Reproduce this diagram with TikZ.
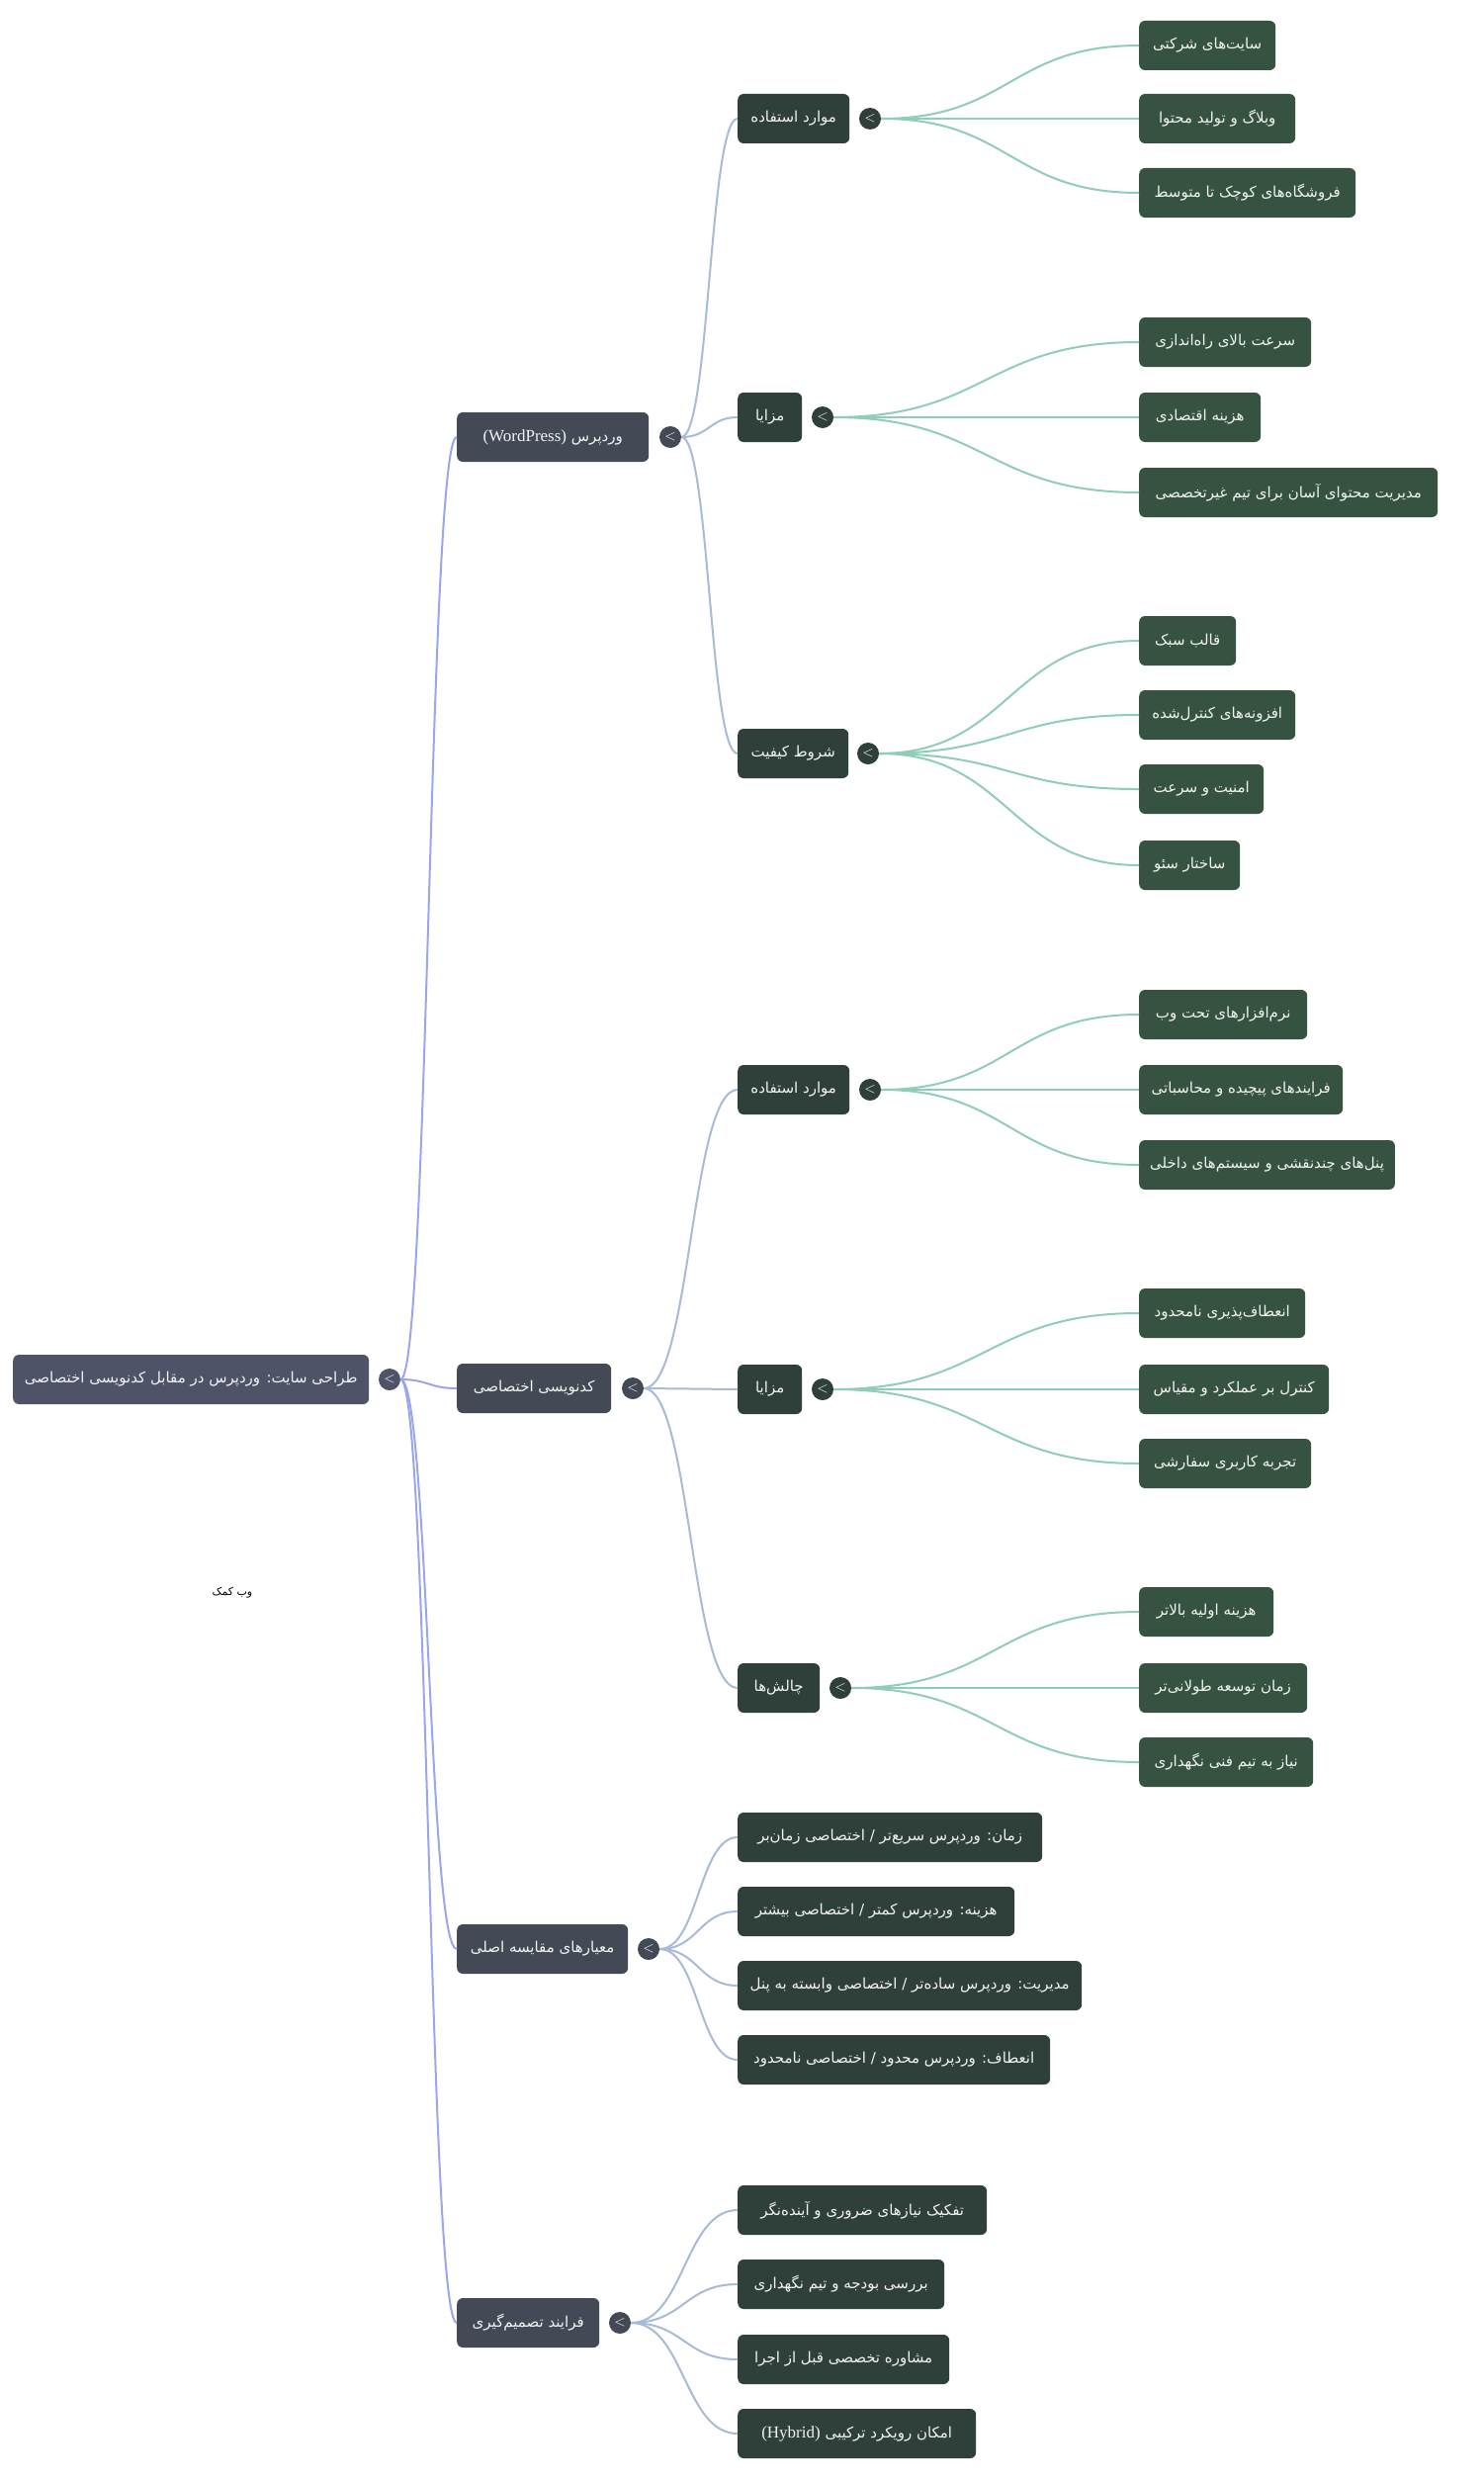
\documentclass[tikz,border=0pt]{standalone}
\usepackage{fontspec}
\newfontfamily\fa[Script=Arabic]{DejaVu Sans}
\newfontfamily\lat{Liberation Serif}
\TeXXeTstate=1
\usetikzlibrary{calc}
\definecolor{rootc}{HTML}{4F5368}
\definecolor{onec}{HTML}{434A56}
\definecolor{twoc}{HTML}{2F403B}
\definecolor{threec}{HTML}{365341}
\definecolor{linkroot}{HTML}{9AA6EC}
\definecolor{linkone}{HTML}{A7BAD8}
\definecolor{linktwo}{HTML}{8FCDB9}
\definecolor{txt}{HTML}{F2F2F2}
\newcommand\zw{^^^^200c}
\newcommand\latin[1]{\beginL{\lat\fontsize{17}{18}\selectfont #1}\endL}
\newcommand\lnk[3]{\path[draw=#3,line width=2pt] let \p1=(#1.east),\p2=(#2.west),\n1={(\x1+\x2)/2} in (\p1) .. controls (\n1,\y1) and (\n1,\y2) .. (\p2);}
\tikzset{
  boxbase/.style={rounded corners=6pt, text=txt, minimum height=50pt, inner xsep=11pt, anchor=west, font=\fa\fontsize{15}{18}\selectfont},
  rootbox/.style={boxbase, fill=rootc},
  onebox/.style={boxbase, fill=onec},
  twobox/.style={boxbase, fill=twoc},
  threebox/.style={boxbase, fill=threec},
  tg/.style={circle, minimum size=22pt, inner sep=0pt, text=white, font=\sffamily\fontsize{15}{15}\selectfont},
}
\begin{document}
\begin{tikzpicture}[x=1pt,y=-1pt]
\useasboundingbox[fill=white] (0,0) rectangle (1500,2510);
% root
\node[rootbox, minimum width=360pt] (root) at (13,1395) {\beginR طراحی سایت: وردپرس در مقابل کدنویسی اختصاصی\endR};
\node[tg, fill=rootc] (rootT) at (394,1395) {<};
% level 1
\node[onebox, minimum width=194pt] (wp) at (462,442) {\beginR وردپرس \latin{(WordPress)}\endR};
\node[onebox, minimum width=156pt] (cu) at (462,1404) {\beginR کدنویسی اختصاصی\endR};
\node[onebox, minimum width=173pt] (cmp) at (462,1971) {\beginR معیارهای مقایسه اصلی\endR};
\node[onebox, minimum width=144pt] (prc) at (462,2349) {\beginR فرایند تصمیم\zw گیری\endR};
\node[tg, fill=onec] (wpT) at (678,442) {<};
\node[tg, fill=onec] (cuT) at (640,1404) {<};
\node[tg, fill=onec] (cmpT) at (656,1971) {<};
\node[tg, fill=onec] (prcT) at (627,2349) {<};
% level 2
\node[twobox, minimum width=113pt] (wpU) at (746,120) {\beginR موارد استفاده\endR};
\node[twobox, minimum width=65pt] (wpA) at (746,422) {\beginR مزایا\endR};
\node[twobox, minimum width=112pt] (wpQ) at (746,762) {\beginR شروط کیفیت\endR};
\node[twobox, minimum width=113pt] (cuU) at (746,1102) {\beginR موارد استفاده\endR};
\node[twobox, minimum width=65pt] (cuA) at (746,1405) {\beginR مزایا\endR};
\node[twobox, minimum width=83pt] (cuC) at (746,1707) {\beginR چالش\zw ها\endR};
\node[tg, fill=twoc] (wpUT) at (880,120) {<};
\node[tg, fill=twoc] (wpAT) at (832,422) {<};
\node[tg, fill=twoc] (wpQT) at (878,762) {<};
\node[tg, fill=twoc] (cuUT) at (880,1102) {<};
\node[tg, fill=twoc] (cuAT) at (832,1405) {<};
\node[tg, fill=twoc] (cuCT) at (850,1707) {<};
\node[twobox, minimum width=308pt] (cmp1) at (746,1858) {\beginR زمان: وردپرس سریع\zw تر / اختصاصی زمان\zw بر\endR};
\node[twobox, minimum width=280pt] (cmp2) at (746,1933) {\beginR هزینه: وردپرس کمتر / اختصاصی بیشتر\endR};
\node[twobox, minimum width=348pt] (cmp3) at (746,2008) {\beginR مدیریت: وردپرس ساده\zw تر / اختصاصی وابسته به پنل\endR};
\node[twobox, minimum width=316pt] (cmp4) at (746,2083) {\beginR انعطاف: وردپرس محدود / اختصاصی نامحدود\endR};
\node[twobox, minimum width=252pt] (prc1) at (746,2235) {\beginR تفکیک نیازهای ضروری و آینده\zw نگر\endR};
\node[twobox, minimum width=209pt] (prc2) at (746,2310) {\beginR بررسی بودجه و تیم نگهداری\endR};
\node[twobox, minimum width=214pt] (prc3) at (746,2386) {\beginR مشاوره تخصصی قبل از اجرا\endR};
\node[twobox, minimum width=241pt] (prc4) at (746,2461) {\beginR امکان رویکرد ترکیبی \latin{(Hybrid)}\endR};
% level 3
\node[threebox, minimum width=138pt] (a1) at (1152,46) {\beginR سایت\zw های شرکتی\endR};
\node[threebox, minimum width=158pt] (a2) at (1152,120) {\beginR وبلاگ و تولید محتوا\endR};
\node[threebox, minimum width=219pt] (a3) at (1152,195) {\beginR فروشگاه\zw های کوچک تا متوسط\endR};
\node[threebox, minimum width=174pt] (b1) at (1152,346) {\beginR سرعت بالای راه\zw اندازی\endR};
\node[threebox, minimum width=123pt] (b2) at (1152,422) {\beginR هزینه اقتصادی\endR};
\node[threebox, minimum width=302pt] (b3) at (1152,498) {\beginR مدیریت محتوای آسان برای تیم غیرتخصصی\endR};
\node[threebox, minimum width=98pt] (c1) at (1152,648) {\beginR قالب سبک\endR};
\node[threebox, minimum width=158pt] (c2) at (1152,723) {\beginR افزونه\zw های کنترل\zw شده\endR};
\node[threebox, minimum width=126pt] (c3) at (1152,798) {\beginR امنیت و سرعت\endR};
\node[threebox, minimum width=102pt] (c4) at (1152,875) {\beginR ساختار سئو\endR};
\node[threebox, minimum width=170pt] (d1) at (1152,1026) {\beginR نرم\zw افزارهای تحت وب\endR};
\node[threebox, minimum width=206pt] (d2) at (1152,1102) {\beginR فرایندهای پیچیده و محاسباتی\endR};
\node[threebox, minimum width=251pt] (d3) at (1152,1178) {\beginR پنل\zw های چندنقشی و سیستم\zw های داخلی\endR};
\node[threebox, minimum width=168pt] (e1) at (1152,1328) {\beginR انعطاف\zw پذیری نامحدود\endR};
\node[threebox, minimum width=192pt] (e2) at (1152,1405) {\beginR کنترل بر عملکرد و مقیاس\endR};
\node[threebox, minimum width=174pt] (e3) at (1152,1480) {\beginR تجربه کاربری سفارشی\endR};
\node[threebox, minimum width=136pt] (f1) at (1152,1630) {\beginR هزینه اولیه بالاتر\endR};
\node[threebox, minimum width=170pt] (f2) at (1152,1707) {\beginR زمان توسعه طولانی\zw تر\endR};
\node[threebox, minimum width=176pt] (f3) at (1152,1782) {\beginR نیاز به تیم فنی نگهداری\endR};
% caption
\node[font=\fa\fontsize{11}{13}\selectfont, text=black] (cap) at (235,1611) {\beginR وب کمک\endR};
% links
\foreach \c in {wp,cu,cmp,prc} {\lnk{rootT}{\c}{linkroot}}
\foreach \c in {wpU,wpA,wpQ} {\lnk{wpT}{\c}{linkone}}
\foreach \c in {cuU,cuA,cuC} {\lnk{cuT}{\c}{linkone}}
\foreach \c in {cmp1,cmp2,cmp3,cmp4} {\lnk{cmpT}{\c}{linkone}}
\foreach \c in {prc1,prc2,prc3,prc4} {\lnk{prcT}{\c}{linkone}}
\foreach \c in {a1,a2,a3} {\lnk{wpUT}{\c}{linktwo}}
\foreach \c in {b1,b2,b3} {\lnk{wpAT}{\c}{linktwo}}
\foreach \c in {c1,c2,c3,c4} {\lnk{wpQT}{\c}{linktwo}}
\foreach \c in {d1,d2,d3} {\lnk{cuUT}{\c}{linktwo}}
\foreach \c in {e1,e2,e3} {\lnk{cuAT}{\c}{linktwo}}
\foreach \c in {f1,f2,f3} {\lnk{cuCT}{\c}{linktwo}}
\end{tikzpicture}
\end{document}
